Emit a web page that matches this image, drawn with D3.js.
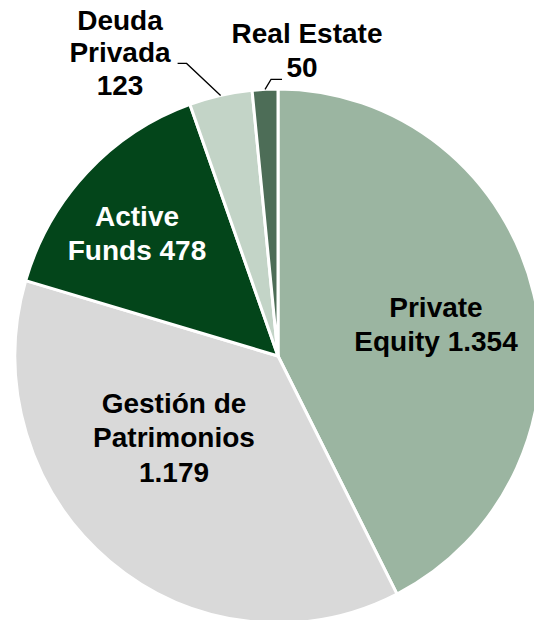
<!DOCTYPE html>
<html>
<head>
<meta charset="utf-8">
<script src="https://cdn.jsdelivr.net/npm/d3@7"></script>
<style>
  body { margin: 0; background: #fff; }
  svg text { font-family: "Liberation Sans", Arial, sans-serif; font-weight: bold; }
</style>
</head>
<body>
<div id="chart"></div>
<script>
// Data (clockwise from 12 o'clock)
var categories = ['Private Equity', 'Gestión de Patrimonios', 'Active Funds', 'Deuda Privada', 'Real Estate'];
var values = [1354, 1179, 478, 123, 50];
var valueLabels = ['1.354', '1.179', '478', '123', '50'];
var labelLines = [
    ['Private', 'Equity 1.354'],
    ['Gestión de', 'Patrimonios', '1.179'],
    ['Active', 'Funds 478'],
    ['Deuda', 'Privada', '123'],
    ['Real Estate', '50']
];
var colors = ['#9bb5a1', '#d9d9d9', '#03451a', '#c3d4c7', '#4d6d57'];
var textColors = ['#000', '#000', '#fff', '#000', '#000'];

// Layout
var svgWidth = 534;
var svgHeight = 620;
var cx = 278, cy = 356;
var rx = 263, ry = 267;   // the pie is very slightly taller than wide

var svg = d3.select('#chart')
    .append('svg')
    .attr('width', svgWidth)
    .attr('height', svgHeight);

var pieGroup = svg.append('g')
    .attr('transform', `translate(${cx}, ${cy}) scale(1, ${ry / rx})`);

var labelGroup = svg.append('g')
    .attr('transform', `translate(${cx}, ${cy})`);

var pie = d3.pie().sort(null).value(d => d);
var arcs = pie(values);

var arc = d3.arc().innerRadius(0).outerRadius(rx);

pieGroup.selectAll('path')
    .data(arcs)
    .enter()
    .append('path')
    .attr('d', arc)
    .attr('fill', (d, i) => colors[i])
    .attr('stroke', '#fff')
    .attr('stroke-width', 3)
    .attr('stroke-linejoin', 'round');

// label placement (centre of each text block, relative to the pie centre)
var labelPos = [
    [158, -32],
    [-104, 81],
    [-141, -123],
    [-158, -304],
    [29, -306]
];
var lineHeights = [34.5, 34.5, 34.5, 32.5, 34.5];

labelLines.forEach(function(lines, i) {
    var t = labelGroup.append('text')
        .attr('text-anchor', 'middle')
        .attr('font-size', 28)
        .attr('fill', textColors[i]);
    var lh = lineHeights[i];
    var startY = labelPos[i][1] - (lines.length - 1) * lh / 2 + 10;
    lines.forEach(function(s, j) {
        // the "50" sits a little left of "Real Estate"
        var dx = (i === 4 && j === 1) ? -5 : 0;
        t.append('tspan')
            .attr('x', labelPos[i][0] + dx)
            .attr('y', startY + j * lh)
            .text(s);
    });
});

// Leader lines for the two small slices, starting on the rim at mid-angle
function rimPoint(d) {
    var a = (d.startAngle + d.endAngle) / 2;
    return [rx * Math.sin(a), -ry * Math.cos(a)];
}

var p3 = rimPoint(arcs[3]);
labelGroup.append('polyline')
    .attr('points', [p3, [p3[0] - 34, p3[1] - 32], [p3[0] - 43, p3[1] - 32]].join(' '))
    .attr('fill', 'none')
    .attr('stroke', '#000')
    .attr('stroke-width', 1.3);

var p4 = rimPoint(arcs[4]);
labelGroup.append('polyline')
    .attr('points', [p4, [p4[0] + 6, p4[1] - 10], [p4[0] + 17, p4[1] - 10]].join(' '))
    .attr('fill', 'none')
    .attr('stroke', '#000')
    .attr('stroke-width', 1.3);
</script>
</body>
</html>
